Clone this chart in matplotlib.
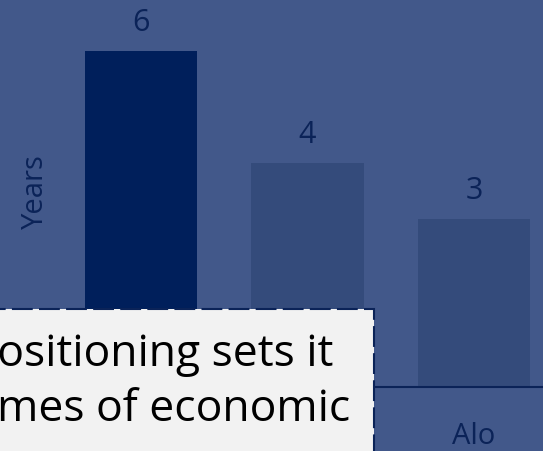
import matplotlib.pyplot as plt
from matplotlib.patches import Rectangle

categories = ['', '', 'Alo']
years = [6, 4, 3]
bar_colors = ['#001f5b', '#344b7b', '#344b7b']
note_text = 'positioning sets it\ntimes of economic'

bg = '#42588a'
navy = '#0b2358'

plt.rcParams['font.family'] = ['Open Sans', 'DejaVu Sans']

fig = plt.figure(figsize=(5.43, 4.51), dpi=100, facecolor=bg)
ax = fig.add_axes([0, 64 / 451, 1, 387 / 451])
ax.set_facecolor(bg)

x = range(len(categories))
bars = ax.bar(x, years, width=0.675, color=bar_colors)
ax.bar_label(bars, padding=9, fontsize=22, color=navy)

ax.set_xlim(-0.847, 2.414)
ax.set_ylim(0, 6.91)
ax.set_xticks(list(x))
ax.set_xticklabels(categories, fontsize=21, color=navy)
ax.tick_params(axis='x', length=0, pad=25)
ax.set_yticks([])
ax.set_ylabel('Years', fontsize=21, color=navy, va='center')
ax.yaxis.set_label_coords(35 / 543, 0.506)

for s in ['top', 'left', 'right']:
    ax.spines[s].set_visible(False)
ax.spines['bottom'].set_color(navy)
ax.spines['bottom'].set_linewidth(1.5)

# note box, cropped at the left and bottom edges
box = Rectangle((-0.2, -0.2), 0.2 + 374 / 543, 0.2 + (451 - 309) / 451,
                transform=fig.transFigure, facecolor='#f2f2f2', edgecolor=navy,
                linewidth=1.5, linestyle=(0, (10, 3)), zorder=5)
fig.patches.append(box)
fig.text(-30 / 543, 1 - 382 / 451, note_text, fontsize=32, color='black',
         ha='left', va='center', linespacing=1.3, zorder=6)

fig.savefig('out.png', dpi=100, facecolor=bg)
